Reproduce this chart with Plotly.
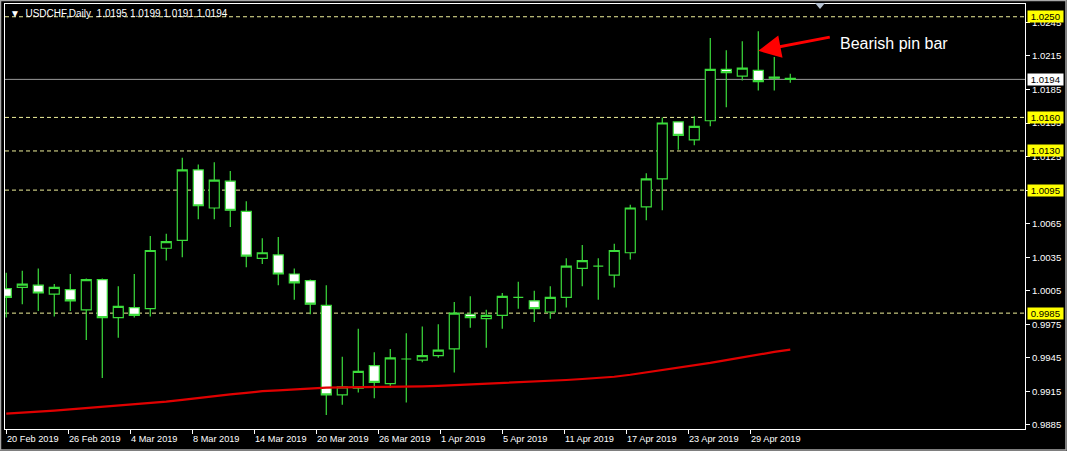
import plotly.graph_objects as go

# ---------------- data ----------------
SYMBOL = "USDCHF"
PERIOD = "Daily"

opens = [1.0007, 1.0008, 1.0010, 1.0002, 1.0006, 0.9988, 1.0015, 0.9981, 0.9990, 0.9989,
         1.0043, 1.0050, 1.0113, 1.0079, 1.0103, 1.0076, 1.0034, 1.0037, 1.0020, 1.0014,
         0.9992, 0.9912, 0.9918, 0.9938, 0.9922, 0.9944, 0.9943, 0.9947, 0.9953, 0.9984,
         0.9980, 0.9983, 0.9999, 0.9996, 0.9986, 0.9999, 1.0025, 1.0027, 1.0019, 1.0039,
         1.0080, 1.0105, 1.0156, 1.0140, 1.0157, 1.0203, 1.0197, 1.0202, 1.0196, 1.0195]
highs = [1.0021, 1.0023, 1.0025, 1.0011, 1.0020, 1.0016, 1.0016, 1.0009, 1.0020, 1.0054,
         1.0056, 1.0124, 1.0118, 1.0120, 1.0112, 1.0085, 1.0052, 1.0053, 1.0025, 1.0015,
         1.0010, 0.9946, 0.9971, 0.9950, 0.9953, 0.9967, 0.9973, 0.9975, 0.9995, 1.0000,
         0.9988, 1.0003, 1.0013, 1.0005, 1.0009, 1.0034, 1.0046, 1.0034, 1.0047, 1.0082,
         1.0110, 1.0160, 1.0156, 1.0161, 1.0231, 1.0220, 1.0228, 1.0237, 1.0214, 1.0199]
lows = [0.9981, 0.9993, 0.9987, 0.9982, 0.9987, 0.9961, 0.9927, 0.9963, 0.9981, 0.9982,
        1.0032, 1.0035, 1.0069, 1.0069, 1.0062, 1.0026, 1.0029, 1.0010, 0.9997, 0.9984,
        0.9894, 0.9903, 0.9914, 0.9909, 0.9918, 0.9905, 0.9941, 0.9945, 0.9932, 0.9972,
        0.9954, 0.9971, 0.9989, 0.9977, 0.9980, 0.9990, 1.0009, 0.9997, 1.0008, 1.0033,
        1.0068, 1.0077, 1.0131, 1.0135, 1.0152, 1.0169, 1.0193, 1.0184, 1.0184, 1.0191]
closes = [0.9999, 1.0011, 1.0003, 1.0008, 0.9996, 1.0015, 0.9981, 0.9991, 0.9983, 1.0041,
          1.0049, 1.0113, 1.0081, 1.0104, 1.0077, 1.0036, 1.0039, 1.0020, 1.0012, 0.9993,
          0.9912, 0.9919, 0.9933, 0.9923, 0.9945, 0.9944, 0.9947, 0.9952, 0.9985, 0.9981,
          0.9983, 1.0000, 0.9999, 0.9989, 0.9999, 1.0027, 1.0032, 1.0027, 1.0041, 1.0079,
          1.0105, 1.0155, 1.0144, 1.0152, 1.0203, 1.0200, 1.0204, 1.0192, 1.0195, 1.0194]
ma_values = [0.98951, 0.98958, 0.98969, 0.98979, 0.98990, 0.99002, 0.99013, 0.99022, 0.99031, 0.99044,
             0.99058, 0.99075, 0.99093, 0.99108, 0.99123, 0.99137, 0.99152, 0.99160, 0.99170, 0.99179,
             0.99184, 0.99186, 0.99187, 0.99189, 0.99190, 0.99191, 0.99196, 0.99200, 0.99206, 0.99212,
             0.99218, 0.99225, 0.99231, 0.99237, 0.99245, 0.99252, 0.99261, 0.99271, 0.99281, 0.99299,
             0.99319, 0.99340, 0.99362, 0.99384, 0.99405, 0.99430, 0.99455, 0.99482, 0.99503, 0.99524]
levels = [1.0250, 1.0160, 1.0130, 1.0095, 0.9985]
tick_labels = ["20 Feb 2019", "26 Feb 2019", "4 Mar 2019", "8 Mar 2019", "14 Mar 2019",
               "20 Mar 2019", "26 Mar 2019", "1 Apr 2019", "5 Apr 2019", "11 Apr 2019",
               "17 Apr 2019", "23 Apr 2019", "29 Apr 2019"]
pin_bar_index = 47
pin_bar_text = "Bearish pin bar"

# ---------------- style / layout constants ----------------
W, H = 1067, 451
ML, MR, MT, MB = 5, 42, 4, 22
PW, PH = W - ML - MR, H - MT - MB
TICK_STEP_BARS = 3.875
X_RANGE = [-0.08, 63.67]
Y_RANGE = [0.98814, 1.02614]
GREEN = "#3CDC3C"
FONT = "Liberation Sans, Arial, sans-serif"

n = len(opens)
x = list(range(n))

fig = go.Figure()
fig.add_trace(go.Scatter(
    x=x, y=ma_values, mode="lines",
    line=dict(color="#E00000", width=2.2),
    hoverinfo="skip", showlegend=False))
fig.add_trace(go.Candlestick(
    x=x, open=opens, high=highs, low=lows, close=closes,
    increasing=dict(line=dict(color=GREEN, width=1.2), fillcolor="#000000"),
    decreasing=dict(line=dict(color=GREEN, width=1.2), fillcolor="#FFFFFF"),
    whiskerwidth=0, hoverinfo="skip", showlegend=False))

shapes = []
for lvl in levels:
    shapes.append(dict(type="line", xref="paper", yref="y", x0=0, x1=1, y0=lvl, y1=lvl,
                       line=dict(color="#F0F09A", width=1, dash="4px,3px"), layer="below"))
shapes.append(dict(type="line", xref="paper", yref="y", x0=0, x1=1, y0=closes[-1], y1=closes[-1],
                   line=dict(color="#9A9A9A", width=1), layer="below"))
# chart-shift marker at top
mx = (820 - ML) / PW
shapes.append(dict(type="path", xref="paper", yref="paper",
                   path=f"M {mx-5/PW} {1+1/PH} L {mx+5/PW} {1+1/PH} L {mx} {1-5/PH} Z",
                   fillcolor="#B4C0D0", line=dict(width=0)))
# outer window frame
shapes.append(dict(type="rect", xref="paper", yref="paper",
                   x0=-ML / PW + 0.5 / PW, x1=1 + (MR - 1) / PW,
                   y0=-(MB - 1) / PH, y1=1 + (MT - 0.5) / PH,
                   line=dict(color="#A8A8A8", width=1.5)))

annotations = []
# title
annotations.append(dict(
    xref="paper", yref="paper", x=3 / PW, y=1, xanchor="left", yanchor="top", yshift=-2,
    text=f"▼  {SYMBOL},{PERIOD}  {opens[-1]:.4f} {highs[-1]:.4f} {lows[-1]:.4f} {closes[-1]:.4f}",
    showarrow=False, font=dict(family=FONT, size=10, color="#FFFFFF")))
# x tick labels (left-aligned like the terminal)
for k, lab in enumerate(tick_labels):
    annotations.append(dict(
        xref="x", yref="paper", x=k * TICK_STEP_BARS, y=0, xanchor="left", yanchor="top",
        yshift=-3, xshift=-1, text=lab, showarrow=False,
        font=dict(family=FONT, size=9.2, color="#FFFFFF")))
# level price labels
for lvl in levels:
    annotations.append(dict(
        xref="paper", yref="y", x=1, y=lvl, xanchor="left", yanchor="middle", xshift=2,
        text=f"&nbsp;{lvl:.4f}&nbsp;", showarrow=False, bgcolor="#FFFF00", borderpad=0,
        font=dict(family=FONT, size=9.6, color="#000000")))
annotations.append(dict(
    xref="paper", yref="y", x=1, y=closes[-1], xanchor="left", yanchor="middle", xshift=2,
    text=f"&nbsp;{closes[-1]:.4f}&nbsp;", showarrow=False, bgcolor="#FFFFFF", borderpad=0,
    font=dict(family=FONT, size=9.6, color="#000000")))
# pin bar arrow + text
pin_y = (highs[pin_bar_index] + max(opens[pin_bar_index], closes[pin_bar_index])) / 2
annotations.append(dict(
    xref="x", yref="y", x=pin_bar_index, y=pin_y, text="", showarrow=True,
    ax=73, ay=-14, arrowhead=2, arrowsize=1.5, arrowwidth=3, arrowcolor="#FF0000", standoff=0))
annotations.append(dict(
    xref="x", yref="y", x=pin_bar_index, y=pin_y, xanchor="left", yanchor="middle",
    xshift=80, yshift=7, text=pin_bar_text, showarrow=False,
    font=dict(family=FONT, size=16, color="#FFFFFF")))

fig.update_layout(
    width=W, height=H,
    margin=dict(l=ML, r=MR, t=MT, b=MB, pad=0),
    paper_bgcolor="#000000", plot_bgcolor="#000000",
    font=dict(family=FONT, size=10, color="#FFFFFF"),
    boxgap=0.375, boxgroupgap=0,
    showlegend=False,
    shapes=shapes, annotations=annotations,
    xaxis=dict(
        range=X_RANGE, rangeslider=dict(visible=False), showgrid=False, zeroline=False,
        showline=True, linecolor="#FFFFFF", linewidth=1, mirror=True,
        tickmode="array", tickvals=[k * TICK_STEP_BARS for k in range(len(tick_labels))],
        showticklabels=False, ticks="outside", ticklen=4, tickcolor="#FFFFFF", tickwidth=1),
    yaxis=dict(
        range=Y_RANGE, side="right", showgrid=False, zeroline=False,
        showline=True, linecolor="#FFFFFF", linewidth=1, mirror=True,
        tick0=0.9885, dtick=0.003, tickformat=".4f",
        ticks="outside", ticklen=4, tickcolor="#FFFFFF", tickwidth=1,
        tickfont=dict(family=FONT, size=9.6, color="#FFFFFF")),
)

fig.write_html(
    "out.html",
    config={"displayModeBar": False},
    post_script="document.body.style.margin='0';document.body.style.background='#000';",
)
